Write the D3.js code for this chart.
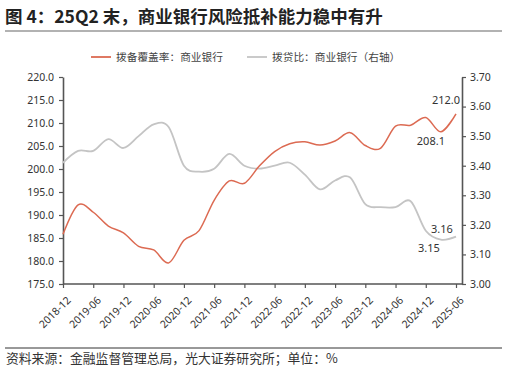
<!DOCTYPE html>
<html>
<head>
<meta charset="utf-8">
<script src="https://cdn.jsdelivr.net/npm/d3@7"></script>
<style>
	body { margin: 0; background: #fff; }
	svg text { font-family: "Noto Sans CJK SC", "Noto Sans", sans-serif; fill: #333; }
</style>
</head>
<body>
<div id="chart"></div>
<script>
// quarterly data, 2018-12 .. 2025-06
var quarters = ["2018-12","2019-03","2019-06","2019-09","2019-12","2020-03","2020-06","2020-09",
	"2020-12","2021-03","2021-06","2021-09","2021-12","2022-03","2022-06","2022-09","2022-12",
	"2023-03","2023-06","2023-09","2023-12","2024-03","2024-06","2024-09","2024-12","2025-03","2025-06"];

// 拨备覆盖率：商业银行 (left axis)
var coverage = [185.8,192.2,190.6,187.6,186.1,183.2,182.4,179.6,184.5,186.6,193.2,197.4,196.9,
	200.7,203.8,205.5,205.9,205.2,206.1,207.9,205.1,204.5,209.3,209.5,211.2,208.1,212.0];

// 拨贷比：商业银行 (right axis)
var loanRatio = [3.41,3.45,3.45,3.49,3.46,3.50,3.54,3.53,3.40,3.38,3.39,3.44,3.40,
	3.39,3.40,3.41,3.37,3.32,3.35,3.36,3.27,3.26,3.26,3.28,3.18,3.15,3.16];

var leftTicks = [175,180,185,190,195,200,205,210,215,220];
var rightTicks = [3.0,3.1,3.2,3.3,3.4,3.5,3.6,3.7];
var xTickLabels = quarters.filter(function(d, i) { return i % 2 == 0; });

var seriesNames = ["拨备覆盖率：商业银行", "拨贷比：商业银行（右轴）"];
var title = "图 4：25Q2 末，商业银行风险抵补能力稳中有升";
var source = "资料来源：金融监督管理总局，光大证券研究所；单位：%";

let svg_width = 507,
	svg_height = 369;

var red = "#dc6a52", grey = "#c4c4c4", axisColor = "#555";

var svg = d3.select("#chart").append("svg")
	.attr("width", svg_width)
	.attr("height", svg_height);

// title + rules
svg.append("text")
	.attr("x", 5).attr("y", 23)
	.style("font-size", "17.5px").style("font-weight", "bold")
	.style("fill", "#222")
	.text(title);
svg.append("line")
	.attr("x1", 5).attr("x2", 502).attr("y1", 31).attr("y2", 31)
	.style("stroke", "#666").style("stroke-width", 1.2);
svg.append("line")
	.attr("x1", 5).attr("x2", 502).attr("y1", 348).attr("y2", 348)
	.style("stroke", "#333").style("stroke-width", 1);
svg.append("text")
	.attr("x", 6).attr("y", 363)
	.style("font-size", "12.8px")
	.text(source);

// scales
var plotLeft = 63, plotRight = 462, plotTop = 77, plotBottom = 284;
var xScale = d3.scalePoint().domain(quarters).range([plotLeft, 456]);
var yLeft = d3.scaleLinear().domain([175, 220]).range([plotBottom, plotTop]);
var yRight = d3.scaleLinear().domain([3.0, 3.7]).range([plotBottom, plotTop]);

// left axis
var gLeft = svg.append("g")
	.attr("transform", "translate(" + plotLeft + ",0)")
	.call(d3.axisLeft(yLeft).tickValues(leftTicks).tickFormat(d3.format(".1f")).tickSize(4).tickSizeOuter(0));

// right axis
var gRight = svg.append("g")
	.attr("transform", "translate(" + plotRight + ",0)")
	.call(d3.axisRight(yRight).tickValues(rightTicks).tickFormat(d3.format(".2f")).tickSize(4).tickSizeOuter(0));

// x axis
var gX = svg.append("g")
	.attr("transform", "translate(0," + plotBottom + ")")
	.call(d3.axisBottom(xScale).tickValues(xTickLabels).tickSize(4).tickSizeOuter(0));
gX.select(".domain").attr("d", "M" + plotLeft + ",0H" + plotRight);
gX.selectAll(".tick text")
	.attr("text-anchor", "end")
	.attr("dx", 0).attr("dy", 0)
	.attr("transform", "translate(3,12) rotate(-45)");

[gLeft, gRight, gX].forEach(function(g) {
	g.selectAll(".domain").style("stroke", axisColor).style("stroke-width", 1.6);
	g.selectAll(".tick line").style("stroke", axisColor).style("stroke-width", 1.2);
	g.selectAll(".tick text").style("font-size", "10.5px").style("fill", "#333")
		.style("font-family", "'Noto Sans', sans-serif");
});
gLeft.selectAll(".tick text").attr("x", -9);
gRight.selectAll(".tick text").attr("x", 8);

// lines
var curve = d3.curveCardinal.tension(0);
var lineLeft = d3.line()
	.x(function(d, i) { return xScale(quarters[i]); })
	.y(function(d) { return yLeft(d); })
	.curve(curve);
var lineRight = d3.line()
	.x(function(d, i) { return xScale(quarters[i]); })
	.y(function(d) { return yRight(d); })
	.curve(curve);

svg.append("path").datum(loanRatio)
	.attr("d", lineRight)
	.style("fill", "none").style("stroke", grey).style("stroke-width", 1.8);
svg.append("path").datum(coverage)
	.attr("d", lineLeft)
	.style("fill", "none").style("stroke", red).style("stroke-width", 1.5);

// data labels
var n = quarters.length;
function label(x, y, txt) {
	svg.append("text").attr("x", x).attr("y", y)
		.attr("text-anchor", "middle")
		.style("font-size", "11px")
		.style("font-family", "'Noto Sans', sans-serif")
		.text(txt);
}
label(xScale(quarters[n - 1]) - 10, yLeft(coverage[n - 1]) - 10, d3.format(".1f")(coverage[n - 1]));
label(xScale(quarters[n - 2]) - 10, yLeft(coverage[n - 2]) + 13, d3.format(".1f")(coverage[n - 2]));
label(xScale(quarters[n - 1]) - 14, yRight(loanRatio[n - 1]) - 4, d3.format(".2f")(loanRatio[n - 1]));
label(xScale(quarters[n - 2]) - 12, yRight(loanRatio[n - 2]) + 12, d3.format(".2f")(loanRatio[n - 2]));

// legend
var legend = svg.selectAll(".legend")
	.data(seriesNames)
	.enter()
	.append("g")
	.attr("class", "legend")
	.attr("transform", function(d, i) { return "translate(" + (i == 0 ? 91 : 247) + ",57)"; });
legend.append("line")
	.attr("x1", 0).attr("x2", 20).attr("y1", 0).attr("y2", 0)
	.style("stroke", function(d, i) { return i == 0 ? red : grey; })
	.style("stroke-width", 1.8);
legend.append("text")
	.attr("x", 25).attr("y", 0).attr("dy", "0.35em")
	.style("font-size", "10.7px")
	.style("fill", "#444")
	.text(function(d) { return d; });
</script>
</body>
</html>
